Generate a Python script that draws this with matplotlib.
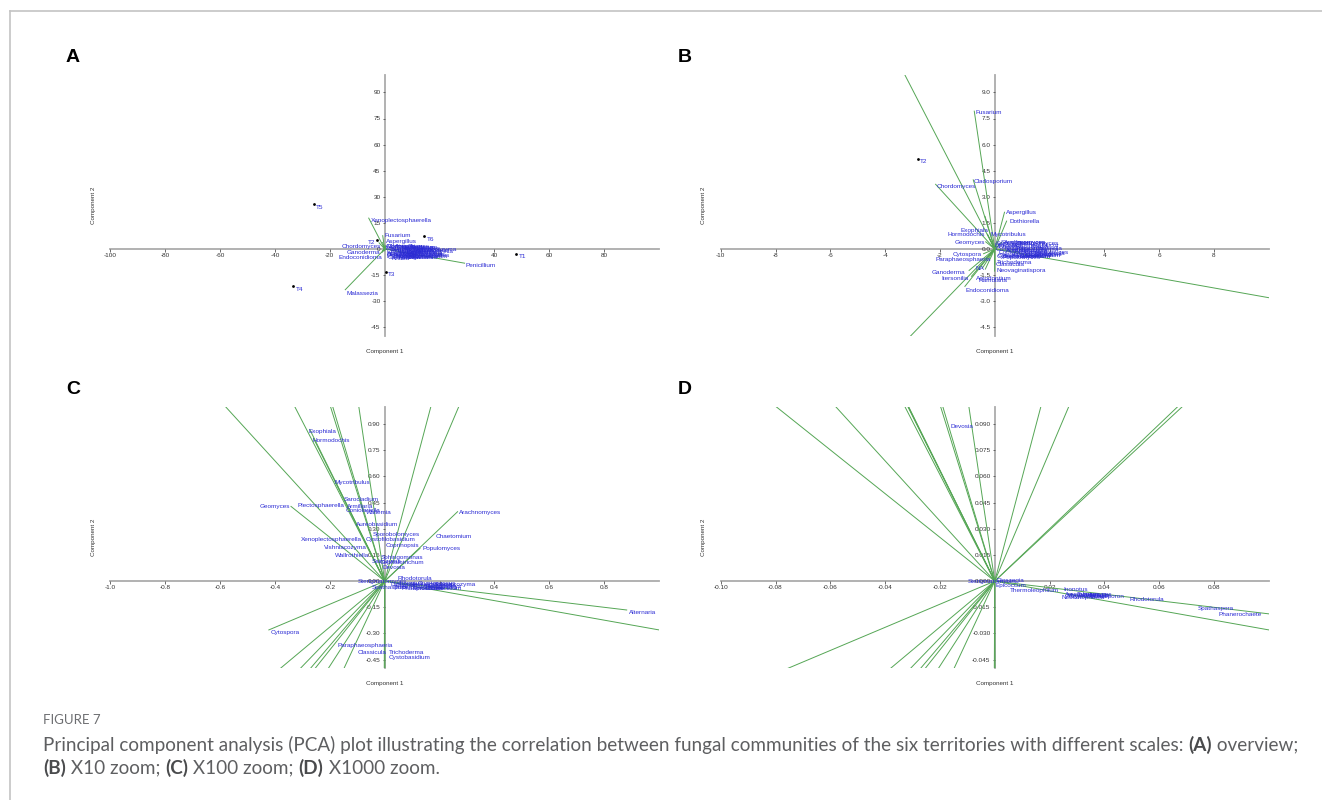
import matplotlib
matplotlib.use("Agg")
import matplotlib.pyplot as plt
from matplotlib.lines import Line2D

plt.rcParams['font.family'] = ['Liberation Sans', 'DejaVu Sans']

W, H = 1322, 800

# ---------------- data ----------------
score_names = ['T1', 'T2', 'T3', 'T4', 'T5', 'T6']
score_pc1 = [48.0, -2.8, 0.5, -33.3, -25.8, 14.5]
score_pc2 = [-2.9, 5.2, -13.2, -21.5, 25.7, 7.3]

load_names = ['Xenoplectosphaerella', 'Malassezia', 'Penicillium', 'Fusarium', 'Cladosporium',
              'Chordomyces', 'Aspergillus', 'Dothiorella', 'Ganoderma', 'Endoconidioma',
              'Itersonilia', 'NA', 'Paraphaeosphaeria', 'Trichoderma', 'Cystobasidium',
              'Geomyces', 'Exophiala', 'Hormodochis', 'Mycotribulus', 'Cephalotrichum',
              'Arachnomyces', 'Chaetomium', 'Alternaria', 'Cytospora']
load_pc1 = [-5.9, -14.5, 29.3, -0.75, -0.79, -2.17, 0.36, 0.44, -0.95, -1.10,
            -0.86, -0.46, -0.35, -0.004, 0.002, -0.343, -0.274, -0.26, -0.183, -0.36,
            0.267, 0.13, 0.884, -0.424]
load_pc2 = [18.0, -23.6, -8.2, 7.95, 4.0, 3.74, 2.14, 1.63, -1.25, -2.17,
            -1.59, -1.12, -1.18, -1.3, -0.9, 0.43, 0.872, 0.82, 0.58, 1.9,
            0.40, 0.19, -0.166, -0.281]

# panel A labels
a_names = ['Xenoplectosphaerella', 'Fusarium', 'Aspergillus', 'Cladosporium', 'Chordomyces',
           'Ganoderma', 'Endoconidioma', 'Malassezia', 'Penicillium']
a_x = [-4.95, 0.0, 0.5, 0.5, -15.6, -13.7, -17.0, -14.0, 29.5]
a_y = [16.5, 7.6, 4.4, 1.3, 1.3, -1.9, -4.6, -25.3, -9.6]
a_blob_names = ['Mortierella', 'Cryptococcus', 'Talaromyces', 'Trichosporon', 'Candida',
                'Didymella', 'Plectosphaerella', 'Acremonium', 'Botrytis', 'Humicola',
                'Leptosphaeria', 'Phialophora', 'Neosetophoma', 'Microdochium', 'Knufia',
                'Preussia', 'Solicoccozyma', 'Tausonia', 'Sordaria', 'Verticillium',
                'Lecanicillium', 'Purpureocillium', 'Clonostachys', 'Metarhizium', 'Beauveria',
                'Pseudogymnoascus', 'Naganishia', 'Filobasidium', 'Tetracladium', 'Paecilomyces',
                'Cadophora', 'Gibberella']
a_blob_x = [0.8, 4.5, 1.5, 7.0, 0.6, 3.5, 8.0, 1.0, 5.5, 2.0, 6.5, 0.5, 4.0, 8.5, 2.5, 0.3,
            11.0, 12.0, 9.0, 3.0, 6.0, 2.0, 5.0, 9.5, 0.8, 3.0, 7.5, 5.0, 10.0, 6.0, 1.0, 8.0]
a_blob_y = [1.2, 0.6, -0.2, -0.6, -1.2, -1.6, -1.5, -2.4, -2.6, -3.4, -3.3, -4.2, -4.4, -4.3,
            -5.2, 0.2, -0.2, -2.4, 0.8, 1.6, 1.0, -0.9, -2.0, -3.0, -3.0, -3.9, -4.8, -5.0,
            -1.0, 0.2, -4.7, -2.2]

# panel B labels
b_names = ['Fusarium', 'Cladosporium', 'Chordomyces', 'Aspergillus', 'Dothiorella', 'Exophiala',
           'Hormodochis', 'Mycotribulus', 'Geomyces', 'Arachnomyces', 'Cytospora',
           'Paraphaeosphaeria', 'NA', 'Ganoderma', 'Itersonilia', 'Acrodontium', 'Ramularia',
           'Endoconidioma', 'Cystobasidium', 'Trichoderma', 'Classicula', 'Neovaginatispora']
b_x = [-0.72, -0.76, -2.11, 0.41, 0.54, -1.26, -1.72, -0.16, -1.46, 0.33, -1.54,
       -2.15, -0.70, -2.29, -1.93, -0.70, -0.61, -1.07, 0.08, 0.09, 0.05, 0.08]
b_y = [7.83, 3.87, 3.58, 2.09, 1.57, 1.09, 0.82, 0.82, 0.40, 0.38, -0.29,
       -0.59, -1.11, -1.36, -1.71, -1.69, -1.82, -2.36, -0.44, -0.77, -0.90, -1.21]
b_blob_names = ['Sarocladium', 'Mortierella', 'Wallemia', 'Plectosphaerella', 'Coniolariella',
                'Aureobasidium', 'Sporobolomyces', 'Coprinopsis', 'Vishniacozyma',
                'Cystofilobasidium', 'Chaetomium', 'Populomyces', 'Wallrothiella',
                'Rhodotorula', 'Devosia', 'Saccharomyces', 'Debaryomyces', 'Knufia',
                'Kazachstania', 'Phoma', 'Epicoccum', 'Thermoleophilum', 'Rhizopus', 'Mucor']
b_blob_x = [0.05, 0.6, 0.1, 0.75, 0.05, 0.4, 1.0, 0.15, 0.6, 0.1, 1.1, 0.3, 0.7, 1.3, 0.0,
            0.2, 0.8, 1.3, 0.35, 1.6, 0.9, 0.25, 1.5, 1.7]
b_blob_y = [0.30, 0.22, 0.12, 0.02, -0.02, -0.10, -0.18, -0.22, -0.30, -0.35, -0.38, -0.50,
            -0.12, -0.25, 0.20, 0.38, 0.30, 0.12, 0.05, -0.05, -0.45, -0.42, -0.32, 0.20]

# panel C labels
c_names = ['Exophiala', 'Hormodochis', 'Mycotribulus', 'Sarocladium', 'Geomyces',
           'Plectosphaerella', 'Armillaria', 'Coniolariella', 'Wallemia', 'Aureobasidium',
           'Sporobolomyces', 'Cystofilobasidium', 'Xenoplectosphaerella', 'Coprinopsis',
           'Chaetomium', 'Populomyces', 'Arachnomyces', 'Vishniacozyma', 'Wallrothiella',
           'Sphingomonas', 'Saitozyma', 'Cephalotrichum', 'Devosia', 'Rhodotorula',
           'Sterigmatomyces', 'Alternaria', 'Cytospora', 'Paraphaeosphaeria', 'Classicula',
           'Trichoderma', 'Cystobasidium', 'Spathaspora']
c_x = [-0.278, -0.262, -0.183, -0.151, -0.455, -0.318, -0.137, -0.141, -0.067, -0.103,
       -0.042, -0.071, -0.307, 0.005, 0.184, 0.138, 0.270, -0.220, -0.183,
       -0.016, -0.046, -0.020, -0.009, 0.047, -0.098, 0.891, -0.417, -0.173, -0.098,
       0.014, 0.014, -0.048]
c_y = [0.857, 0.809, 0.566, 0.469, 0.426, 0.432, 0.430, 0.407, 0.392, 0.325,
       0.268, 0.241, 0.241, 0.203, 0.258, 0.189, 0.394, 0.193, 0.145,
       0.134, 0.115, 0.107, 0.076, 0.013, 0.0, -0.182, -0.297, -0.369, -0.411,
       -0.411, -0.440, -0.038]
c_blob_names = ['Dioszegia', 'Neosetophoma', 'Thermoleophilum', 'Stachybotrys', 'Phanerochaete',
                'Lecanicillium', 'Epicoccum', 'Inonotus', 'Solicoccozyma', 'Cryptococcus',
                'Knufia', 'Talaromyces', 'Didymella']
c_blob_x = [0.02, 0.09, 0.03, 0.145, 0.06, 0.15, 0.10, 0.05, 0.18, 0.12, 0.20, 0.04, 0.16]
c_blob_y = [-0.020, -0.022, -0.035, -0.030, -0.045, -0.045, -0.040, -0.012, -0.020, -0.015,
            -0.035, -0.028, -0.025]

# panel D labels
d_names = ['Devosia', 'Sterigmatomyces', 'Dioszegia', 'Epicoccum', 'Thermoleophilum',
           'Inonotus', 'Neosetophoma', 'Rhodotorula', 'Spathaspora', 'Phanerochaete']
d_x = [-0.0162, -0.0098, 0.0005, 0.0001, 0.0054, 0.0249, 0.0242, 0.0493, 0.0741, 0.0818]
d_y = [0.0885, 0.0, 0.0003, -0.0025, -0.0052, -0.0050, -0.0096, -0.0105, -0.0155, -0.0191]
d_blob_names = ['Acremonium', 'Mortierella', 'Cryptococcus', 'Talaromyces', 'Didymella',
                'Knufia', 'Trichosporon']
d_blob_x = [0.0255, 0.026, 0.027, 0.030, 0.032, 0.035, 0.034]
d_blob_y = [-0.0075, -0.0082, -0.0088, -0.0078, -0.0085, -0.0080, -0.0090]

# tick values
a_xticks = [-100, -80, -60, -40, -20, 20, 40, 60, 80]
a_yticks = [-45, -30, -15, 0, 15, 30, 45, 60, 75, 90]
b_xticks = [-10, -8, -6, -4, -2, 2, 4, 6, 8]
b_yticks = [-4.5, -3.0, -1.5, 0.0, 1.5, 3.0, 4.5, 6.0, 7.5, 9.0]
c_xticks = [-1.0, -0.8, -0.6, -0.4, -0.2, 0.2, 0.4, 0.6, 0.8]
c_yticks = [-0.45, -0.30, -0.15, 0.0, 0.15, 0.30, 0.45, 0.60, 0.75, 0.90]
d_xticks = [-0.10, -0.08, -0.06, -0.04, -0.02, 0.02, 0.04, 0.06, 0.08]
d_yticks = [-0.045, -0.030, -0.015, 0.0, 0.015, 0.030, 0.045, 0.060, 0.075, 0.090]

# ---------------- style ----------------
BLUE = '#2b2bd4'
GREEN = '#55a655'
AXIS_GREY = '#ababab'
TICK_COL = '#333333'
LAB_FS = 4.6

fig = plt.figure(figsize=(W / 100, H / 100), dpi=100)


def add_panel(rect_px, xlim, ylim, xticks, xfmt, yticks, yfmt,
              names, xs, ys, bnames, bxs, bys, t2_left):
    l, t, r, b = rect_px
    ax = fig.add_axes([l / W, 1 - b / H, (r - l) / W, (b - t) / H])
    ax.set_xlim(*xlim)
    ax.set_ylim(*ylim)
    ax.patch.set_visible(False)
    for s in ['top', 'right']:
        ax.spines[s].set_visible(False)
    for s in ['left', 'bottom']:
        ax.spines[s].set_position(('data', 0))
        ax.spines[s].set_color(AXIS_GREY)
        ax.spines[s].set_linewidth(1.3)
        ax.spines[s].set_zorder(1)
    ax.set_xticks(xticks)
    ax.set_xticklabels([xfmt.format(v) for v in xticks])
    ax.set_yticks(yticks)
    ax.set_yticklabels([yfmt.format(v) for v in yticks])
    ax.tick_params(length=1.8, width=0.6, color='#555555', labelsize=LAB_FS,
                   labelcolor=TICK_COL, pad=1.2)
    for x, y in zip(load_pc1, load_pc2):
        ax.plot([0, x], [0, y], color=GREEN, lw=0.7, zorder=2, solid_capstyle='butt')
    ax.scatter(score_pc1, score_pc2, s=4, color='black', zorder=5, linewidths=0)
    for n, x, y in zip(score_names, score_pc1, score_pc2):
        left = t2_left and n == 'T2'
        ax.annotate(n, (x, y), xytext=(-1.5 if left else 1.5, -2), textcoords='offset points',
                    ha='right' if left else 'left', va='center', fontsize=LAB_FS,
                    color=BLUE, annotation_clip=True, zorder=6)
    for n, x, y in zip(bnames, bxs, bys):
        ax.text(x, y, n, ha='left', va='center', fontsize=LAB_FS, color=BLUE,
                clip_on=False, zorder=4)
    for n, x, y in zip(names, xs, ys):
        ax.text(x, y, n, ha='left', va='center', fontsize=LAB_FS, color=BLUE,
                clip_on=False, zorder=4)
    ax.text(0.5, -0.058, 'Component 1', transform=ax.transAxes, ha='center', va='center',
            fontsize=4.5, color=TICK_COL)
    ax.text(-0.0306, 0.5, 'Component 2', transform=ax.transAxes, ha='center', va='center',
            rotation=90, fontsize=4.5, color=TICK_COL)
    return ax


add_panel((110.4, 75, 659, 336), (-100, 100), (-50, 100), a_xticks, '{:d}', a_yticks, '{:d}',
          a_names, a_x, a_y, a_blob_names, a_blob_x, a_blob_y, True)
add_panel((720.7, 75, 1268.8, 336), (-10, 10), (-5, 10), b_xticks, '{:d}', b_yticks, '{:.1f}',
          b_names, b_x, b_y, b_blob_names, b_blob_x, b_blob_y, False)
add_panel((110.4, 406.7, 659, 668.3), (-1, 1), (-0.5, 1.0), c_xticks, '{:.1f}', c_yticks, '{:.2f}',
          c_names, c_x, c_y, c_blob_names, c_blob_x, c_blob_y, False)
add_panel((720.7, 406.7, 1268.8, 668.3), (-0.1, 0.1), (-0.05, 0.1), d_xticks, '{:.2f}', d_yticks, '{:.3f}',
          d_names, d_x, d_y, d_blob_names, d_blob_x, d_blob_y, False)

# panel letters
for letter, (px, py) in zip(['A', 'B', 'C', 'D'], [(66, 57), (678, 57), (66, 389), (678, 389)]):
    fig.text(px / W, 1 - py / H, letter, fontsize=14, fontweight='bold', color='black',
             ha='left', va='center', family=['Liberation Sans', 'DejaVu Sans'])

# border lines (top and left)
fig.add_artist(Line2D([10 / W, 1.0], [1 - 11 / H, 1 - 11 / H], transform=fig.transFigure,
                      color='#c4c4c4', lw=1.2))
fig.add_artist(Line2D([10 / W, 10 / W], [1 - 11 / H, 0.0], transform=fig.transFigure,
                      color='#c4c4c4', lw=1.2))

# caption
CAP_FONT = ['Lato', 'Open Sans', 'DejaVu Sans']
CAP_COL = '#5e5f61'
renderer = fig.canvas.get_renderer()
line1 = [('Principal component analysis (PCA) plot illustrating the correlation between fungal '
          'communities of the six territories with different scales: ', 'normal'),
         ('(A)', 'bold'), (' overview;', 'normal')]
line2 = [('(B)', 'bold'), (' X10 zoom; ', 'normal'), ('(C)', 'bold'), (' X100 zoom; ', 'normal'),
         ('(D)', 'bold'), (' X1000 zoom.', 'normal')]


def seg_width(segs, size):
    total = 0
    for txt, wt in segs:
        t = fig.text(0, 0, txt, fontsize=size, fontweight=wt, family=CAP_FONT)
        total += t.get_window_extent(renderer=renderer).width
        t.remove()
    return total


size = 12 * (1251 / seg_width(line1, 12))


def draw_line(segs, x_px, y_px, size):
    x = x_px
    for txt, wt in segs:
        t = fig.text(x / W, 1 - y_px / H, txt, fontsize=size, fontweight=wt, family=CAP_FONT,
                     color=CAP_COL if wt != 'bold' else '#4a4b4d', ha='left', va='center')
        x += t.get_window_extent(renderer=renderer).width


fig.text(43 / W, 1 - 720 / H, 'FIGURE 7', fontsize=9.5, color='#6d6e71', family=CAP_FONT,
         ha='left', va='center')
draw_line(line1, 43, 745, size)
draw_line(line2, 43, 768, size)

fig.savefig('out.png', dpi=100)
